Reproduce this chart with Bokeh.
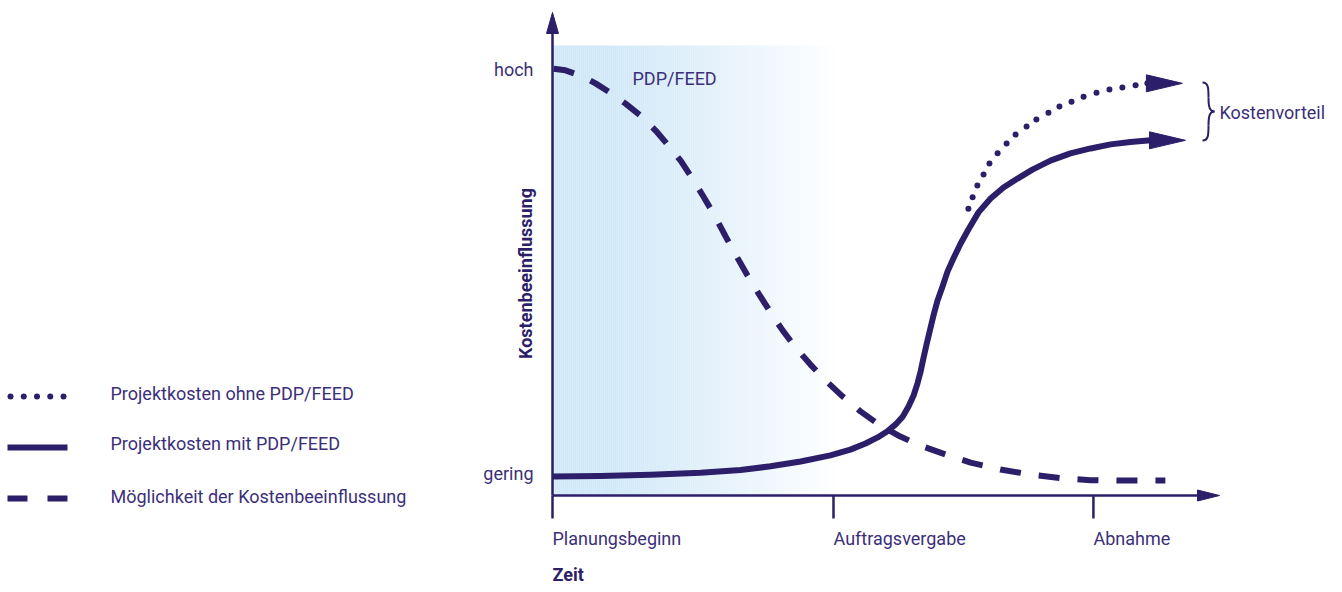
import numpy as np
from bokeh.plotting import figure
from bokeh.models import Range1d
from bokeh.core.properties import value
from bokeh.embed import file_html
from bokeh.resources import INLINE

# ---------------- data (time: Planungsbeginn=0, Auftragsvergabe=100; influence: gering=0, hoch=100)
tick_labels = ["Planungsbeginn", "Auftragsvergabe", "Abnahme"]
tick_pos = [0, 100, 192.5]
level_labels = ["gering", "hoch"]
level_pos = [0, 100]

# Möglichkeit der Kostenbeeinflussung (dashed)
infl_x = [0.4, 4.6, 10.0, 15.3, 20.6, 26.0, 31.3, 36.7, 41.3, 45.6, 49.8, 53.7,
          57.7, 61.6, 65.5, 69.4, 73.3, 77.6, 81.9, 86.5, 91.8, 97.2, 103.2, 109.6,
          116.7, 123.8, 131.0, 139.9, 148.8, 159.4, 170.1, 180.8, 191.5, 202.1, 218.1]
infl_y = [100.2, 99.8, 98.5, 96.6, 94.3, 91.6, 88.7, 85.0, 81.3, 77.6, 73.2, 68.8,
          64.1, 59.0, 54.1, 49.4, 45.0, 40.3, 35.9, 31.7, 27.5, 23.6, 19.7, 16.0,
          12.5, 9.8, 7.6, 5.4, 3.4, 1.7, 0.5, -0.4, -0.9, -1.0, -1.0]

# Projektkosten mit PDP/FEED (solid)
cost_x = [0.0, 17.1, 34.9, 52.7, 66.9, 77.6, 88.3, 98.9, 106.0, 111.4, 115.7, 119.2,
          122.1, 124.6, 126.7, 128.5, 129.9, 131.0, 132.0, 133.1, 134.2, 135.6, 137.0,
          138.8, 140.6, 142.7, 145.2, 148.0, 151.6, 155.9, 160.5, 165.5, 170.8, 177.2,
          184.3, 191.5, 198.6, 205.7, 212.8]
cost_y = [0.0, 0.1, 0.4, 0.9, 1.6, 2.5, 3.7, 5.2, 6.6, 8.1, 9.6, 11.1,
          12.8, 14.7, 17.2, 19.9, 22.9, 25.8, 29.0, 32.4, 35.6, 39.6, 43.2,
          46.7, 50.4, 53.6, 57.2, 60.7, 64.9, 68.3, 71.0, 73.2, 75.4, 77.6,
          79.4, 80.6, 81.6, 82.2, 82.6]

# Projektkosten ohne PDP/FEED (dotted)
nopdp_x = [148.0, 149.5, 151.2, 153.4, 155.5, 158.4, 161.6, 164.8, 168.7, 172.2,
           176.5, 180.4, 184.7, 189.0, 193.6, 198.2, 202.8, 207.5, 211.7]
nopdp_y = [65.8, 68.6, 71.5, 74.2, 76.9, 79.4, 81.8, 84.0, 86.0, 87.7,
           89.4, 90.9, 92.1, 93.3, 94.3, 95.1, 95.6, 96.1, 96.6]

legend_labels = ["Projektkosten ohne PDP/FEED", "Projektkosten mit PDP/FEED",
                 "Möglichkeit der Kostenbeeinflussung"]
phase_label = "PDP/FEED"
advantage_label = "Kostenvorteil"
x_title = "Zeit"
y_title = "Kostenbeeinflussung"

# ---------------- layout helpers (pixel -> data)
X0, XS = 552.0, 2.81
Y0, YS = 476.0, 4.07
W, H = 1334, 584


def X(px):
    return (px - X0) / XS


def Y(py):
    return (Y0 - py) / YS


def PX(x):
    return X0 + x * XS


def PY(y):
    return Y0 - y * YS


LINE = "#2d1e69"
TEXT = "#3b2f7a"
FONT = value("Roboto")

p = figure(width=W, height=H, output_backend="svg", toolbar_location=None,
           x_range=Range1d(X(0), X(W)), y_range=Range1d(Y(H), Y(0)),
           min_border=0, x_axis_location=None, y_axis_location=None)
p.grid.visible = False
p.outline_line_color = None
p.background_fill_color = "white"
p.border_fill_color = "white"

# gradient area (PDP/FEED phase)
c0 = np.array([208, 232, 248])
lefts, rights, cols = [], [], []
for px in range(552, 834, 2):
    t = min(max((px - 600) / (833 - 600), 0.0), 1.0)
    t = t ** 1.2
    c = (c0 * (1 - t) + 255 * t).astype(int)
    lefts.append(X(px))
    rights.append(X(px + 2.2))
    cols.append("#%02x%02x%02x" % tuple(c))
p.quad(left=lefts, right=rights, top=Y(45), bottom=Y(495), fill_color=cols, line_color=None)

# axes with arrows
p.line([X(552), X(552)], [Y(495), Y(32)], line_color=LINE, line_width=2.5)
p.patch([X(546), X(558), X(552)], [Y(33), Y(33), Y(12)], fill_color=LINE, line_color=LINE)
p.line([X(552), X(1199)], [Y(495), Y(495)], line_color=LINE, line_width=2.5)
p.patch([X(1197), X(1197), X(1219)], [Y(489.5), Y(500.5), Y(495)], fill_color=LINE, line_color=LINE)
p.segment(x0=tick_pos, y0=Y(495), x1=tick_pos, y1=Y(518), line_color=LINE, line_width=2.5)

# curves
p.line(infl_x, infl_y, line_color=LINE, line_width=6, line_dash="21 18")
p.line(cost_x, cost_y, line_color=LINE, line_width=6, line_join="round")
p.scatter(nopdp_x, nopdp_y, size=6, fill_color=LINE, line_color=None)

# arrow heads for the cost curves
for xs, ys in ((cost_x, cost_y), (nopdp_x, nopdp_y)):
    bx, by = PX(xs[-1]), PY(ys[-1])
    p.patch([X(bx - 1), X(bx - 1), X(bx + 35)], [Y(by - 8.5), Y(by + 8.5), Y(by)],
            fill_color=LINE, line_color=LINE)

# brace for Kostenvorteil
bz = [((1202, 82), (1208, 82), (1208, 88), (1208, 97)),
      ((1208, 97), (1208, 106), (1209, 111), (1214, 111)),
      ((1214, 111), (1209, 111), (1208, 116), (1208, 125)),
      ((1208, 125), (1208, 134), (1208, 140), (1202, 140))]
p.bezier(x0=[X(b[0][0]) for b in bz], y0=[Y(b[0][1]) for b in bz],
         cx0=[X(b[1][0]) for b in bz], cy0=[Y(b[1][1]) for b in bz],
         cx1=[X(b[2][0]) for b in bz], cy1=[Y(b[2][1]) for b in bz],
         x1=[X(b[3][0]) for b in bz], y1=[Y(b[3][1]) for b in bz],
         line_color=LINE, line_width=2)

# texts
common = dict(text_font=FONT, text_font_size="18px", text_color=TEXT, text_baseline="middle")
p.text(x=tick_pos, y=Y(538), text=tick_labels, text_align="left", **common)
p.text(x=[X(533)] * 2, y=[Y(473), Y(69)], text=level_labels, text_align="right", **common)
p.text(x=[X(632)], y=[Y(78)], text=[phase_label], text_align="left", **common)
p.text(x=[X(1219)], y=[Y(112)], text=[advantage_label], text_align="left", **common)
p.text(x=[X(552)], y=[Y(574)], text=[x_title], text_align="left", text_font=FONT,
       text_font_size="18px", text_font_style="bold", text_color=LINE, text_baseline="middle")
p.text(x=[X(525)], y=[Y(273)], text=[y_title], angle=np.pi / 2, text_align="center",
       text_font=FONT, text_font_size="18px", text_font_style="bold", text_color=LINE,
       text_baseline="middle")

# legend
p.scatter([X(v) for v in np.linspace(10, 63, 5)], [Y(396)] * 5, size=6,
          fill_color=LINE, line_color=None)
p.line([X(7), X(67)], [Y(447), Y(447)], line_color=LINE, line_width=6)
p.segment(x0=[X(7), X(47)], y0=Y(498), x1=[X(27), X(67)], y1=Y(498), line_color=LINE, line_width=6)
p.text(x=[X(110)] * 3, y=[Y(393), Y(443), Y(496)], text=legend_labels, text_align="left", **common)

open("out.html", "w").write(file_html(p, INLINE))
